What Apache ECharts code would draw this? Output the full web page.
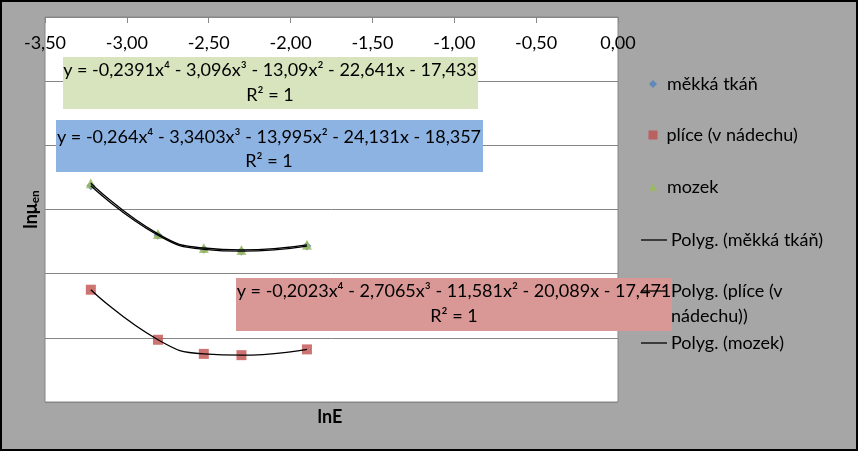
<!DOCTYPE html>
<html>
<head>
<meta charset="utf-8">
<script src="https://cdn.jsdelivr.net/npm/echarts@6/dist/echarts.min.js"></script>
<style>
html,body{margin:0;padding:0;background:#a6a6a6;}
#wrap{position:relative;width:858px;height:451px;}
#chart{position:absolute;left:0;top:0;width:858px;height:451px;}
#frame{position:absolute;left:0;top:0;width:858px;height:451px;box-sizing:border-box;border:2px solid #000;pointer-events:none;}
</style>
</head>
<body>
<div id="wrap"><div id="chart"></div><div id="frame"></div></div>
<script>
// ---- data ----
const lnE = [-3.22, -2.81, -2.53, -2.30, -1.90];
const softTissue = [-2.63, -3.40, -3.62, -3.65, -3.57];
const lung = [-4.25, -5.03, -5.25, -5.27, -5.18];
const brain = [-2.59, -3.38, -3.60, -3.63, -3.55];
const seriesNames = ['měkká tkáň', 'plíce (v nádechu)', 'mozek'];
const trendNames = ['Polyg. (měkká tkáň)', 'Polyg. (plíce (v nádechu))', 'Polyg. (mozek)'];
const eqBrain = 'y = -0,2391x\u2074 - 3,096x\u00b3 - 13,09x\u00b2 - 22,641x - 17,433\nR\u00b2 = 1';
const eqSoft = 'y = -0,264x\u2074 - 3,3403x\u00b3 - 13,995x\u00b2 - 24,131x - 18,357\nR\u00b2 = 1';
const eqLung = 'y = -0,2023x\u2074 - 2,7065x\u00b3 - 11,581x\u00b2 - 20,089x - 17,471\nR\u00b2 = 1';

const FONT = 'Lato';
const FS = 18;
const pairs = arr => lnE.map((x, i) => [x, arr[i]]);

const chart = echarts.init(document.getElementById('chart'));

function legendMarker(name, top, icon, size) {
  return {
    data: [{name: name, icon: icon}],
    left: 653 - size / 2, top: top, padding: 0, itemWidth: size, itemHeight: size,
    selectedMode: false,
    textStyle: {fontFamily: FONT, fontSize: FS, color: '#000', lineHeight: 20, padding: [0,0,0,13 - size]}
  };
}
function legendLine(name, top) {
  return {
    data: [{name: name, icon: 'rect'}],
    left: 641, top: top, padding: 0, itemWidth: 26, itemHeight: 1.3,
    selectedMode: false,
    formatter: n => n === trendNames[1] ? 'Polyg. (plíce (v' : n,
    textStyle: {fontFamily: FONT, fontSize: FS, color: '#000', lineHeight: 20, padding: [0,0,0,-1]}
  };
}

const lineStyle = {color: '#000', width: 1.3};

const option = {
  backgroundColor: '#a6a6a6',
  animation: false,
  grid: {left: 45, top: 17, width: 573, height: 385, show: true, backgroundColor: '#fff', borderWidth: 1, borderColor: '#868686'},
  xAxis: {
    type: 'value', position: 'top', min: -3.5, max: 0, interval: 0.5,
    axisLine: {show: true, onZero: false, lineStyle: {color: '#868686', width: 1}},
    axisTick: {show: true, inside: true, length: 6, lineStyle: {color: '#868686'}},
    axisLabel: {inside: true, margin: 17, color: '#000', fontFamily: FONT, fontSize: FS,
      formatter: v => v.toFixed(2).replace('.', ',')},
    splitLine: {show: false}
  },
  yAxis: {
    type: 'value', min: -6, max: 0, interval: 1,
    axisLine: {show: false}, axisTick: {show: false}, axisLabel: {show: false},
    splitLine: {show: true, lineStyle: {color: '#868686', width: 1}},
    name: '{a|lnμ}{b|en}', nameLocation: 'middle', nameGap: 4, nameRotate: 90,
    nameTextStyle: {rich: {
      a: {fontFamily: FONT, fontSize: FS, fontWeight: 'bold', color: '#000'},
      b: {fontFamily: FONT, fontSize: 12, fontWeight: 'bold', color: '#000', verticalAlign: 'bottom', padding: [7,0,0,0]}
    }}
  },
  legend: [
    legendMarker(seriesNames[0], 74, 'diamond', 8),
    legendMarker(seriesNames[1], 125, 'rect', 9),
    legendMarker(seriesNames[2], 177, 'triangle', 8),
    legendLine(trendNames[0], 230),
    legendLine(trendNames[1], 281),
    legendLine(trendNames[2], 333)
  ],
  graphic: [
    {type: 'rect', z: 3, shape: {x: 63, y: 57, width: 415, height: 52}, style: {fill: '#d7e4bd'}},
    {type: 'text', z: 3, x: 270, y: 58, style: {text: eqBrain, align: 'center', verticalAlign: 'top', lineHeight: 25, font: FS + 'px ' + FONT, fill: '#000'}},
    {type: 'rect', z: 3, shape: {x: 56, y: 120, width: 427, height: 52}, style: {fill: '#8db3e2'}},
    {type: 'text', z: 3, x: 269, y: 125, style: {text: eqSoft, align: 'center', verticalAlign: 'top', lineHeight: 24, font: FS + 'px ' + FONT, fill: '#000'}},
    {type: 'rect', z: 3, shape: {x: 236, y: 278, width: 436, height: 53}, style: {fill: '#d99795'}},
    {type: 'text', z: 3, x: 454, y: 279, style: {text: eqLung, align: 'center', verticalAlign: 'top', lineHeight: 25, font: FS + 'px ' + FONT, fill: '#000'}},
    {type: 'text', z: 5, x: 671, y: 316, style: {text: 'nádechu))', font: FS + 'px ' + FONT, fill: '#000', verticalAlign: 'middle'}},
    {type: 'text', z: 5, x: 330, y: 417, style: {text: 'lnE', align: 'center', verticalAlign: 'middle', font: 'bold ' + FS + 'px ' + FONT, fill: '#000'}}
  ],
  series: [
    {name: seriesNames[0], type: 'scatter', symbol: 'diamond', symbolSize: 9, itemStyle: {color: '#4f81bd'}, data: pairs(softTissue), z: 2},
    {name: seriesNames[1], type: 'scatter', symbol: 'rect', symbolSize: 10, itemStyle: {color: '#c0504d'}, data: pairs(lung), z: 2},
    {name: seriesNames[2], type: 'scatter', symbol: 'triangle', symbolSize: 10, itemStyle: {color: '#9bbb59'}, data: pairs(brain), z: 2},
    {name: trendNames[0], type: 'line', smooth: 0.5, symbol: 'none', lineStyle: lineStyle, itemStyle: {color: '#000'}, data: pairs(softTissue), z: 3},
    {name: trendNames[1], type: 'line', smooth: 0.5, symbol: 'none', lineStyle: lineStyle, itemStyle: {color: '#000'}, data: pairs(lung), z: 3},
    {name: trendNames[2], type: 'line', smooth: 0.5, symbol: 'none', lineStyle: lineStyle, itemStyle: {color: '#000'}, data: pairs(brain), z: 3}
  ]
};
chart.setOption(option);
</script>
</body>
</html>
